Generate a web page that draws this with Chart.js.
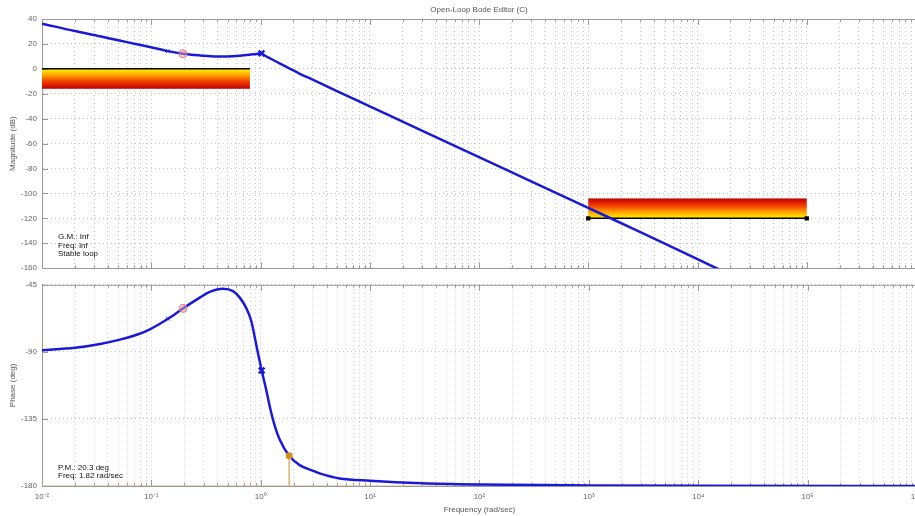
<!DOCTYPE html>
<html>
<head>
<meta charset="utf-8">
<title>Open-Loop Bode Editor (C)</title>
<script src="https://cdn.jsdelivr.net/npm/chart.js@4.4.1/dist/chart.umd.min.js"></script>
<style>
    html, body { margin: 0; padding: 0; background: #fff; overflow: hidden; width: 915px; height: 516px; }
    #graficoMag { position: absolute; left: 0; top: 0; }
    #graficoFase { position: absolute; left: 0; top: 275px; }
</style>
</head>
<body>
<canvas id="graficoMag" width="916" height="278"></canvas>
<canvas id="graficoFase" width="929" height="241"></canvas>
<script>
// valores
const decadas = [0.01, 0.1, 1, 10, 100, 1000, 10000, 100000, 1000000];
const rotulosDecadas = ['10⁻²', '10⁻¹', '10⁰', '10¹', '10²', '10³', '10⁴', '10⁵', '10⁶'];
const multiplicadores = [1, 2, 3, 4, 5, 6, 7, 8, 9];

const magFreq = [0.01, 0.02, 0.034, 0.05, 0.07, 0.095, 0.142, 0.195, 0.28, 0.4, 0.56, 0.79, 0.92, 1.01, 1.1, 1.2, 1.4, 1.56, 1.8, 2.27, 3, 5, 10, 30, 100, 300, 1000, 3000, 14900, 100000];
const magDb = [36.3, 30.3, 26.1, 22.9, 20.2, 17.7, 14.2, 12.1, 10.8, 10.0, 10.2, 11.3, 12.0, 12.4, 10.5, 8.8, 5.7, 3.6, 0.8, -3.8, -8.7, -17.8, -30.1, -49.6, -70.8, -90.3, -111.6, -131, -160, -193.7];

const faseFreq = [0.01, 0.02, 0.034, 0.0515, 0.07, 0.095, 0.142, 0.195, 0.277, 0.342, 0.453, 0.558, 0.643, 0.74, 0.822, 0.881, 0.944, 1.02, 1.127, 1.208, 1.342, 1.49, 1.82, 2.27, 3.0, 3.46, 5.26, 10, 30, 100, 1000, 10000, 1000000];
const faseDeg = [-88.9, -87.3, -84.7, -81.8, -79, -75.2, -67.8, -60.8, -53.6, -49.7, -47.6, -49.2, -53.6, -60.8, -69.6, -80, -91, -102.5, -116, -126.5, -139.5, -148.8, -159.7, -166, -169.8, -171.5, -174.9, -176.5, -178.2, -179, -179.6, -179.9, -180];

// marcadores (zero, ponto selecionado, polo)
const marcFreq = [0.142, 0.195, 1.02];
const marcMag = [14.2, 12.1, 12.4];
const marcFase = [-67.8, -60.8, -102.5];

// margem de fase
const mfFreq = [1.82, 1.82];
const mfFase = [-159.7, -180];
const linha180Freq = [0.01, 1000000];
const linha180Fase = [-180, -180];

// restrições (faixas)
const restBaixaFreq = [0.01, 0.8];
const restBaixaDb = [0, -16];
const restAltaFreq = [1000, 100000];
const restAltaDb = [-120, -104];

const textoGM = ['G.M.: Inf', 'Freq: Inf', 'Stable loop'];
const textoPM = ['P.M.: 20.3 deg', 'Freq: 1.82 rad/sec'];

const fonte = 'Liberation Sans, Arial, sans-serif';
const azul = '#1a1ad6';

let ticksFreq = [];
decadas.forEach((d, i) => {
    if (i === decadas.length - 1) { ticksFreq.push(d); return; }
    multiplicadores.forEach(m => ticksFreq.push(+(d * m).toPrecision(6)));
});

function pontos(xs, ys) {
    return xs.map((x, i) => ({ x: x, y: ys[i] }));
}

function rotuloFreq(v) {
    let i = decadas.findIndex(d => Math.abs(d - v) / d < 1e-6);
    return i >= 0 ? rotulosDecadas[i] : '';
}

// faixas com gradiente amarelo -> vermelho
const pluginFaixas = {
    id: 'faixas',
    beforeDatasetsDraw(chart, args, opts) {
        if (!opts.lista) return;
        const { ctx, chartArea, scales } = chart;
        ctx.save();
        ctx.beginPath();
        ctx.rect(chartArea.left, chartArea.top, chartArea.width, chartArea.height);
        ctx.clip();
        opts.lista.forEach(f => {
            const x0 = scales.x.getPixelForValue(f.freq[0]);
            const x1 = scales.x.getPixelForValue(f.freq[1]);
            const yBorda = scales.y.getPixelForValue(f.db[0]);
            const yFim = scales.y.getPixelForValue(f.db[1]);
            const g = ctx.createLinearGradient(0, yBorda, 0, yFim);
            g.addColorStop(0, '#fff200');
            g.addColorStop(0.3, '#ffa800');
            g.addColorStop(0.65, '#f03a00');
            g.addColorStop(1, '#bf0000');
            ctx.fillStyle = g;
            ctx.fillRect(x0, Math.min(yBorda, yFim), x1 - x0, Math.abs(yFim - yBorda));
        });
        ctx.restore();
    }
};

// moldura superior, marcas internas e textos
const pluginMoldura = {
    id: 'moldura',
    beforeDatasetsDraw(chart, args, opts) {
        const { ctx, chartArea, scales } = chart;
        ctx.save();
        ctx.strokeStyle = '#9a9a9a';
        ctx.lineWidth = 1;
        ctx.beginPath();
        ctx.moveTo(chartArea.left, chartArea.top + 0.5);
        ctx.lineTo(chartArea.right, chartArea.top + 0.5);
        ticksFreq.forEach(v => {
            const px = Math.round(scales.x.getPixelForValue(v)) + 0.5;
            const len = rotuloFreq(v) ? 6 : 3;
            ctx.moveTo(px, chartArea.top);
            ctx.lineTo(px, chartArea.top + len);
            ctx.moveTo(px, chartArea.bottom);
            ctx.lineTo(px, chartArea.bottom - len);
        });
        scales.y.ticks.forEach(t => {
            const py = Math.round(scales.y.getPixelForValue(t.value)) + 0.5;
            ctx.moveTo(chartArea.left, py);
            ctx.lineTo(chartArea.left + 6, py);
        });
        ctx.stroke();
        ctx.restore();
    },
    afterDraw(chart, args, opts) {
        const { ctx, chartArea } = chart;
        ctx.save();
        ctx.font = '8px ' + fonte;
        ctx.textBaseline = 'middle';
        if (opts.titulo) {
            ctx.fillStyle = '#555';
            ctx.textAlign = 'center';
            ctx.fillText(opts.titulo, 479, 10);
        }
        if (opts.linhas) {
            ctx.fillStyle = '#111';
            ctx.textAlign = 'left';
            opts.linhas.forEach((l, i) => {
                ctx.fillText(l, chartArea.left + 16, chartArea.bottom - opts.base + i * opts.passo);
            });
        }
        ctx.restore();
    }
};

function escalaX(comRotulos) {
    return {
        type: 'logarithmic',
        min: 0.01,
        max: 1000000,
        afterBuildTicks: s => { s.ticks = ticksFreq.map(v => ({ value: v })); },
        afterFit: s => { s.height = comRotulos ? 30 : 0; },
        grid: { color: '#c8c8c8', drawTicks: false },
        border: { color: '#9a9a9a', dash: [1, 3] },
        ticks: {
            display: comRotulos,
            autoSkip: false,
            maxRotation: 0,
            padding: 6,
            color: '#666',
            font: { family: fonte, size: 8 },
            callback: v => rotuloFreq(v)
        },
        title: {
            display: comRotulos,
            text: 'Frequency (rad/sec)',
            color: '#555',
            font: { family: fonte, size: 8 },
            padding: { top: 0, bottom: 1 }
        }
    };
}

function escalaY(min, max, passo, titulo) {
    return {
        min: min,
        max: max,
        afterFit: s => { s.width = 42; },
        grid: { color: '#c8c8c8', drawTicks: false },
        border: { color: '#9a9a9a', dash: [1, 3] },
        ticks: {
            stepSize: passo,
            padding: 5,
            color: '#666',
            font: { family: fonte, size: 8 }
        },
        title: {
            display: true,
            text: titulo,
            color: '#555',
            font: { family: fonte, size: 8 },
            padding: { top: 8, bottom: 8 }
        }
    };
}

const opcoesBase = {
    responsive: false,
    animation: false,
    events: [],
    plugins: { legend: { display: false }, tooltip: { enabled: false } }
};

new Chart(document.getElementById('graficoMag').getContext('2d'), {
    type: 'line',
    data: {
        datasets: [
            {
                data: pontos(marcFreq, marcMag),
                showLine: false,
                order: 0,
                pointStyle: ['crossRot', 'circle', 'crossRot'],
                pointRadius: [2.5, 4, 4],
                pointBorderWidth: [1, 1, 2.5],
                pointBorderColor: [azul, '#e07878', azul],
                pointBackgroundColor: [azul, 'rgba(235,160,180,0.5)', azul]
            },
            {
                data: pontos(magFreq, magDb),
                borderColor: azul,
                borderWidth: 2.5,
                pointRadius: 0,
                cubicInterpolationMode: 'monotone',
                order: 1
            },
            {
                data: pontos(restBaixaFreq, [restBaixaDb[0], restBaixaDb[0]]),
                borderColor: '#000',
                borderWidth: 1.5,
                pointRadius: 0,
                order: 2
            },
            {
                data: pontos(restAltaFreq, [restAltaDb[0], restAltaDb[0]]),
                borderColor: '#000',
                borderWidth: 1.5,
                pointStyle: 'rect',
                pointRadius: 2,
                pointBackgroundColor: '#000',
                pointBorderColor: '#000',
                order: 2
            }
        ]
    },
    options: {
        ...opcoesBase,
        layout: { autoPadding: false, padding: { top: 19, bottom: 8, left: 0, right: 0 } },
        scales: {
            x: escalaX(false),
            y: escalaY(-160, 40, 20, 'Magnitude (dB)')
        },
        plugins: {
            ...opcoesBase.plugins,
            faixas: {
                lista: [
                    { freq: restBaixaFreq, db: restBaixaDb },
                    { freq: restAltaFreq, db: restAltaDb }
                ]
            },
            moldura: { titulo: 'Open-Loop Bode Editor (C)', linhas: textoGM, base: 31, passo: 8.5 }
        }
    },
    plugins: [pluginFaixas, pluginMoldura]
});

new Chart(document.getElementById('graficoFase').getContext('2d'), {
    type: 'line',
    data: {
        datasets: [
            {
                data: pontos([mfFreq[0]], [mfFase[0]]),
                showLine: false,
                order: 0,
                pointRadius: 3.5,
                pointBorderWidth: 0,
                pointBackgroundColor: '#d4901e'
            },
            {
                data: pontos(marcFreq, marcFase),
                showLine: false,
                order: 0,
                pointStyle: ['crossRot', 'circle', 'crossRot'],
                pointRadius: [2.5, 4, 4],
                pointBorderWidth: [1, 1, 2.5],
                pointBorderColor: [azul, '#e07878', azul],
                pointBackgroundColor: [azul, 'rgba(235,160,180,0.5)', azul]
            },
            {
                data: pontos(faseFreq, faseDeg),
                borderColor: azul,
                borderWidth: 2.5,
                pointRadius: 0,
                cubicInterpolationMode: 'monotone',
                order: 1
            },
            {
                data: pontos(mfFreq, mfFase),
                borderColor: '#d9b46e',
                borderWidth: 1.5,
                pointRadius: 0,
                order: 2
            },
            {
                data: pontos(linha180Freq, linha180Fase),
                borderColor: '#d9b878',
                borderWidth: 1.2,
                pointRadius: 0,
                order: 2
            }
        ]
    },
    options: {
        ...opcoesBase,
        layout: { autoPadding: false, padding: { top: 8, bottom: 0, left: 0, right: 0 } },
        scales: {
            x: escalaX(true),
            y: escalaY(-180, -45, 45, 'Phase (deg)')
        },
        plugins: {
            ...opcoesBase.plugins,
            moldura: { linhas: textoPM, base: 18.5, passo: 8 }
        }
    },
    plugins: [pluginMoldura]
});
</script>
</body>
</html>
